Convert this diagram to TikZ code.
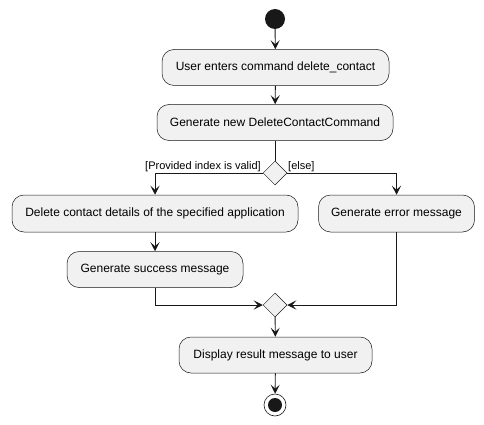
\documentclass[tikz,border=0pt]{standalone}
\usepackage{fontspec}
\setmainfont{Liberation Sans}
\usetikzlibrary{shapes.geometric,arrows.meta}
\definecolor{boxfill}{HTML}{F1F1F1}
\definecolor{linec}{HTML}{181818}
\begin{document}
\begin{tikzpicture}[x=1pt,y=-1pt,
  act/.style={draw=linec,line width=0.5pt,fill=boxfill,rounded corners=12pt,inner sep=0pt,
    minimum height=36pt,font=\fontsize{12}{14}\selectfont,text=black},
  dec/.style={diamond,draw=linec,line width=0.5pt,fill=boxfill,inner sep=0pt,minimum width=24pt,minimum height=24pt},
  flow/.style={draw=linec,line width=0.9pt,-{Stealth[length=9pt,width=9pt,inset=4pt]}},
  guard/.style={font=\fontsize{11}{13}\selectfont,inner sep=1pt}]
\useasboundingbox (0,0) rectangle (484,425);
\node[circle,fill=linec,minimum size=20pt,inner sep=0pt] (start) at (275,19) {};
\node[act,minimum width=227pt] (b1) at (275.5,67.5) {User enters command delete\_contact};
\node[act,minimum width=236pt] (b2) at (275,122.5) {Generate new DeleteContactCommand};
\node[dec] (d1) at (275,173) {};
\node[act,minimum width=286pt,minimum height=37pt] (b3) at (155,213.5) {Delete contact details of the specified application};
\node[act,minimum width=156pt,minimum height=37pt] (b4) at (396.5,213.5) {Generate error message};
\node[act,minimum width=176pt] (b5) at (155,269.5) {Generate success message};
\node[dec] (d2) at (275,305) {};
\node[act,minimum width=193pt] (b6) at (275.5,355) {Display result message to user};
\node[circle,draw=linec,line width=0.6pt,fill=white,minimum size=22pt,inner sep=0pt,
  path picture={\fill[linec] (path picture bounding box.center) circle (7pt);}] (end) at (275,405) {};
\draw[flow] (start) -- (b1);
\draw[flow] (b1) -- (b2);
\draw[draw=linec,line width=0.9pt] (b2) -- (d1);
\draw[flow] (d1.west) -| (b3.north);
\draw[flow] (d1.east) -| (b4.north);
\node[guard,anchor=south east] (g1) at (262,173) {[Provided index is valid]};
\node[guard,anchor=south west] (g2) at (287,173) {[else]};
\draw[flow] (b3) -- (b5);
\draw[flow] (b5.south) |- (d2.west);
\draw[flow] (b4.south) |- (d2.east);
\draw[flow] (d2) -- (b6);
\draw[flow] (b6) -- (end);
\end{tikzpicture}
\end{document}
